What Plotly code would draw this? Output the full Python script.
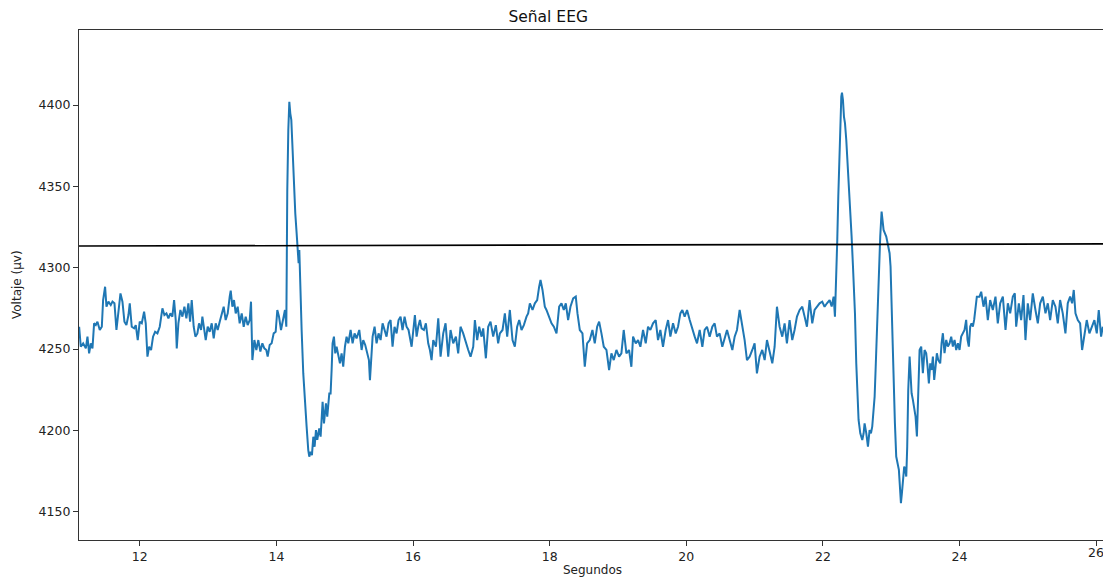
import plotly.graph_objects as go

# Tiempo (s) y voltaje (µV)
tiempo = [
    11.112, 11.136, 11.171, 11.21, 11.234, 11.258, 11.283, 11.307, 11.331, 11.356, 11.38, 11.414, 11.444,
    11.463, 11.492, 11.512, 11.541, 11.575, 11.6, 11.629, 11.658, 11.687, 11.717, 11.746, 11.775, 11.804,
    11.834, 11.853, 11.882, 11.917, 11.941, 11.97, 11.999, 12.029, 12.063, 12.087, 12.112, 12.136, 12.165,
    12.194, 12.224, 12.258, 12.292, 12.331, 12.36, 12.39, 12.419, 12.448, 12.477, 12.502, 12.526, 12.541,
    12.565, 12.594, 12.624, 12.653, 12.682, 12.711, 12.736, 12.76, 12.789, 12.814, 12.843, 12.867, 12.897,
    12.916, 12.941, 12.965, 12.994, 13.023, 13.053, 13.082, 13.111, 13.14, 13.17, 13.199, 13.228, 13.257,
    13.287, 13.316, 13.331, 13.355, 13.379, 13.404, 13.433, 13.462, 13.492, 13.521, 13.55, 13.579, 13.609,
    13.628, 13.648, 13.677, 13.706, 13.735, 13.765, 13.794, 13.823, 13.852, 13.872, 13.901, 13.93, 13.96,
    13.989, 14.013, 14.038, 14.067, 14.096, 14.125, 14.145,
    14.15, 14.159, 14.174, 14.189, 14.203, 14.218, 14.237, 14.257, 14.276, 14.296, 14.31, 14.325, 14.335,
    14.349, 14.369, 14.393, 14.418, 14.442, 14.466, 14.481, 14.501, 14.52, 14.54, 14.559, 14.579, 14.598,
    14.627, 14.647, 14.676, 14.696, 14.725, 14.744, 14.774, 14.793, 14.808, 14.822, 14.842, 14.861, 14.881,
    14.905, 14.93, 14.954, 14.978, 15.003, 15.027, 15.052, 15.086, 15.115, 15.144, 15.173, 15.213, 15.247,
    15.271, 15.3, 15.33, 15.354, 15.369, 15.388, 15.408, 15.437, 15.466, 15.495, 15.525, 15.554, 15.583,
    15.612, 15.642, 15.671, 15.7, 15.729, 15.759, 15.788, 15.817, 15.846, 15.876, 15.905, 15.934,
    15.979, 16.027, 16.052, 16.076, 16.101, 16.125, 16.159, 16.188, 16.222, 16.247, 16.271, 16.296, 16.335,
    16.369, 16.403, 16.442, 16.476, 16.515, 16.549, 16.588, 16.627, 16.661, 16.695, 16.734, 16.773, 16.808,
    16.842, 16.881, 16.905, 16.939, 16.968, 17.003, 17.027, 17.066, 17.1, 17.134, 17.173, 17.212, 17.246,
    17.271, 17.31, 17.344, 17.378, 17.417, 17.456, 17.49, 17.524, 17.554, 17.588, 17.622, 17.661, 17.685,
    17.71, 17.749, 17.783, 17.817, 17.846, 17.866, 17.895, 17.929, 17.953, 17.992, 18.027, 18.061, 18.1,
    18.139, 18.173, 18.207, 18.236, 18.27, 18.304, 18.344, 18.382, 18.407, 18.441, 18.48, 18.514, 18.548,
    18.587, 18.626, 18.66, 18.695, 18.724, 18.758, 18.792, 18.831, 18.87,
    18.904, 18.938, 18.977, 19.016, 19.05, 19.084, 19.123, 19.162, 19.196, 19.221, 19.26, 19.294, 19.328,
    19.367, 19.406, 19.44, 19.474, 19.513, 19.552, 19.586, 19.62, 19.659, 19.698, 19.733, 19.767, 19.806,
    19.845, 19.879, 19.913, 19.942, 19.976, 20.011, 20.05, 20.088, 20.123, 20.157, 20.196, 20.235, 20.269,
    20.303, 20.342, 20.381, 20.415, 20.449, 20.488, 20.527, 20.562, 20.596, 20.635, 20.674, 20.708, 20.742,
    20.781, 20.82, 20.854, 20.888, 20.927, 20.966, 21.0, 21.034, 21.073, 21.112, 21.147, 21.181, 21.22,
    21.259, 21.293, 21.327, 21.366, 21.405, 21.439, 21.473, 21.512, 21.551, 21.585, 21.62, 21.659, 21.698,
    21.732, 21.766, 21.805, 21.844, 21.878, 21.912, 21.951, 21.99, 22.024, 22.059, 22.098,
    22.128, 22.157, 22.176, 22.196, 22.21, 22.225, 22.24, 22.254, 22.269, 22.279, 22.293, 22.308, 22.323,
    22.342, 22.357, 22.376, 22.391, 22.405, 22.42, 22.44, 22.454, 22.469, 22.488, 22.503, 22.522, 22.547,
    22.576, 22.596, 22.61, 22.635, 22.659, 22.683, 22.703, 22.722, 22.742, 22.757, 22.771, 22.791, 22.805,
    22.82, 22.839, 22.859, 22.874, 22.888, 22.908, 22.927, 22.947, 22.961, 22.976, 22.99, 23.005, 23.02,
    23.034, 23.054, 23.073, 23.093, 23.112, 23.127, 23.142, 23.156, 23.171, 23.19, 23.205, 23.22, 23.234,
    23.249, 23.269, 23.283, 23.298, 23.317, 23.337, 23.356, 23.376, 23.395, 23.415, 23.439, 23.463, 23.488,
    23.512, 23.532, 23.551, 23.571, 23.59, 23.61, 23.629, 23.649, 23.668, 23.688, 23.717, 23.737, 23.756,
    23.78, 23.805, 23.829, 23.854, 23.878, 23.902, 23.927, 23.951, 23.976, 24.0, 24.024, 24.049, 24.073,
    24.097, 24.117, 24.136, 24.156, 24.175, 24.195, 24.214, 24.234, 24.253,
    24.292, 24.317, 24.351, 24.38, 24.414, 24.448, 24.487, 24.526, 24.56, 24.595, 24.634, 24.673, 24.707,
    24.741, 24.78, 24.809, 24.829, 24.868, 24.902, 24.936, 24.965, 24.999, 25.033, 25.072, 25.111, 25.146,
    25.18, 25.219, 25.258, 25.292, 25.326, 25.365, 25.404, 25.438, 25.472, 25.511, 25.55, 25.584, 25.619,
    25.648, 25.672, 25.697, 25.731, 25.765, 25.794, 25.828, 25.862, 25.901, 25.94, 25.974, 26.009, 26.038,
    26.072, 26.097,
]

voltaje = [
    4263.7, 4251.4, 4253.5, 4250.4, 4257.6, 4247.3, 4253.5, 4250.4, 4265.8, 4264.7, 4266.8, 4261.7, 4263.7,
    4280.1, 4288.3, 4276.0, 4279.1, 4277.0, 4279.1, 4278.1, 4261.7, 4271.9, 4284.2, 4279.1, 4266.8, 4264.7,
    4270.9, 4278.1, 4263.7, 4262.7, 4264.7, 4255.5, 4266.8, 4265.8, 4272.9, 4265.8, 4245.3, 4251.4, 4249.4,
    4257.6, 4260.6, 4259.6, 4263.7, 4275.0, 4270.9, 4271.9, 4268.8, 4271.9, 4269.9, 4280.1, 4267.8, 4250.4,
    4265.8, 4274.0, 4269.9, 4276.0, 4268.8, 4278.1, 4266.8, 4280.1, 4263.7, 4257.6, 4259.6, 4265.8, 4261.7,
    4269.9, 4260.6, 4255.5, 4263.7, 4260.6, 4265.8, 4256.5, 4265.8, 4261.7, 4266.8, 4270.9, 4276.0, 4267.8,
    4271.9, 4282.2, 4285.9, 4276.0, 4280.1, 4271.9, 4276.0, 4265.8, 4271.9, 4263.7, 4269.9, 4264.7, 4267.8,
    4279.1, 4243.2, 4255.5, 4249.4, 4255.5, 4248.4, 4253.5, 4250.4, 4249.4, 4245.3, 4252.5, 4253.5, 4259.6,
    4260.6, 4274.0, 4269.9, 4261.7, 4267.8, 4274.0, 4263.7,
    4312.9, 4347.7, 4384.6, 4402.0, 4394.9, 4390.8, 4372.3, 4347.7, 4333.4, 4321.1, 4312.9, 4302.7, 4310.9,
    4286.3, 4261.7, 4235.0, 4214.5, 4202.3, 4187.9, 4183.8, 4186.9, 4184.8, 4196.1, 4189.9, 4200.2, 4194.1,
    4201.2, 4196.1, 4217.6, 4204.3, 4216.6, 4208.4, 4222.7, 4222.7, 4237.1, 4253.5, 4257.6, 4247.3, 4251.4,
    4245.3, 4241.2, 4247.3, 4239.1, 4251.4, 4257.6, 4253.5, 4261.7, 4253.5, 4259.6, 4256.5, 4261.7, 4249.4,
    4255.5, 4252.5, 4247.3, 4243.2, 4230.9, 4247.3, 4257.6, 4263.7, 4253.5, 4259.6, 4255.5, 4265.8, 4261.7,
    4257.6, 4265.8, 4267.8, 4251.4, 4263.7, 4259.6, 4267.8, 4269.9, 4261.7, 4269.9, 4263.7, 4261.7,
    4251.4, 4270.9, 4257.6, 4263.7, 4267.8, 4262.7, 4261.7, 4265.8, 4253.5, 4249.4, 4243.2, 4255.5, 4251.4,
    4268.8, 4245.3, 4259.6, 4265.8, 4245.3, 4261.7, 4253.5, 4257.6, 4247.3, 4263.7, 4259.6, 4253.5, 4249.4,
    4245.3, 4251.4, 4267.8, 4255.5, 4263.7, 4257.6, 4262.7, 4244.3, 4263.7, 4266.8, 4257.6, 4264.7, 4253.5,
    4259.6, 4261.7, 4271.9, 4257.6, 4274.0, 4255.5, 4251.4, 4263.7, 4267.8, 4261.7, 4264.7, 4269.9, 4271.9,
    4278.1, 4274.0, 4278.1, 4280.1, 4288.3, 4292.4, 4286.3, 4276.0, 4274.0, 4269.9, 4265.8, 4263.7, 4259.6,
    4276.0, 4278.1, 4274.0, 4278.1, 4267.8, 4276.0, 4281.1, 4282.2, 4271.9, 4261.7, 4259.6, 4239.1, 4253.5,
    4255.5, 4261.7, 4253.5, 4263.7, 4266.8, 4259.6, 4251.4, 4249.4, 4237.1,
    4247.3, 4243.2, 4249.4, 4245.3, 4247.3, 4261.7, 4247.3, 4249.4, 4239.1, 4257.6, 4253.5, 4255.5, 4251.4,
    4261.7, 4253.5, 4263.7, 4261.7, 4265.8, 4267.8, 4255.5, 4261.7, 4251.4, 4261.7, 4267.8, 4257.6, 4265.8,
    4259.6, 4263.7, 4271.9, 4274.0, 4269.9, 4274.0, 4267.8, 4261.7, 4257.6, 4253.5, 4261.7, 4251.4, 4261.7,
    4263.7, 4257.6, 4263.7, 4265.8, 4257.6, 4259.6, 4251.4, 4257.6, 4261.7, 4255.5, 4249.4, 4257.6, 4261.7,
    4274.0, 4263.7, 4255.5, 4243.2, 4245.3, 4249.4, 4253.5, 4235.0, 4245.3, 4249.4, 4243.2, 4255.5, 4247.3,
    4241.2, 4251.4, 4276.0, 4263.7, 4257.6, 4265.8, 4253.5, 4267.8, 4255.5, 4261.7, 4269.9, 4274.0, 4276.0,
    4269.9, 4263.7, 4280.1, 4265.8, 4274.0, 4276.0, 4278.1, 4279.1, 4276.0, 4278.1, 4280.1,
    4276.1, 4282.2, 4269.9, 4292.5, 4317.1, 4343.7, 4370.3, 4390.8, 4405.2, 4407.6, 4403.1, 4392.9, 4388.8,
    4378.5, 4368.3, 4356.0, 4345.7, 4333.4, 4319.1, 4300.7, 4288.4, 4272.0, 4241.2, 4220.7, 4206.4, 4198.2,
    4194.1, 4198.2, 4204.3, 4198.2, 4190.0, 4200.2, 4198.2, 4202.3, 4210.5, 4220.7, 4237.1, 4261.7, 4282.2,
    4300.7, 4319.1, 4334.5, 4329.3, 4323.2, 4321.1, 4319.1, 4315.0, 4310.9, 4308.9, 4300.7, 4276.1, 4251.5,
    4231.0, 4204.3, 4183.9, 4179.8, 4175.7, 4165.4, 4155.2, 4161.3, 4169.5, 4177.7, 4175.7, 4171.6, 4190.0,
    4224.8, 4245.3, 4231.0, 4222.8, 4218.7, 4212.5, 4208.4, 4196.2, 4231.0, 4249.4, 4251.5, 4235.1, 4249.4,
    4247.4, 4239.2, 4228.9, 4241.2, 4237.1, 4245.3, 4231.0, 4239.2, 4247.4, 4243.3, 4241.2, 4253.5, 4259.7,
    4247.4, 4255.6, 4251.5, 4253.5, 4257.6, 4251.5, 4255.6, 4249.4, 4253.5, 4249.4, 4257.6, 4259.7, 4261.7,
    4267.9, 4255.6, 4251.5, 4263.8, 4265.8, 4263.8, 4267.9, 4274.0, 4282.2,
    4282.2, 4285.2, 4276.0, 4282.2, 4267.8, 4280.1, 4274.0, 4282.2, 4265.8, 4278.1, 4282.2, 4261.7, 4278.1,
    4271.9, 4282.2, 4284.2, 4263.7, 4278.1, 4267.8, 4283.2, 4255.5, 4278.1, 4267.8, 4284.2, 4274.0, 4265.8,
    4278.1, 4282.2, 4271.9, 4278.1, 4267.8, 4280.1, 4276.0, 4265.8, 4280.1, 4271.9, 4259.6, 4278.1, 4282.2,
    4278.1, 4286.3, 4271.9, 4267.8, 4265.8, 4249.4, 4257.6, 4267.8, 4259.6, 4263.7, 4267.8, 4259.6, 4274.0,
    4257.6, 4263.7,
]

# Línea de referencia (negra)
umbral_t = [11.11, 26.1]
umbral_v = [4313.3, 4314.6]

x_ticks = [12, 14, 16, 18, 20, 22, 24, 26]
y_ticks = [4150, 4200, 4250, 4300, 4350, 4400]

fig = go.Figure()
fig.add_trace(go.Scatter(
    x=tiempo, y=voltaje, mode="lines",
    line=dict(color="#1f77b4", width=2),
    showlegend=False, hoverinfo="skip",
))
fig.add_trace(go.Scatter(
    x=umbral_t, y=umbral_v, mode="lines",
    line=dict(color="black", width=1.6),
    showlegend=False, hoverinfo="skip",
))

tick_font = dict(family="DejaVu Sans", size=12.5, color="#222222")
axis_common = dict(
    showgrid=False, zeroline=False, showline=True, linecolor="#333333", linewidth=1.2,
    ticks="outside", ticklen=5, tickwidth=1, tickcolor="#333333",
    tickfont=tick_font,
)

fig.update_layout(
    width=1103, height=578,
    margin=dict(l=79, r=0, t=30, b=38),
    paper_bgcolor="white", plot_bgcolor="white",
    title=dict(text="Señal EEG", x=0.497, xanchor="center", y=1 - 17 / 578, yanchor="middle",
               font=dict(family="DejaVu Sans", size=15.5, color="#111111")),
    xaxis=dict(range=[11.11, 26.1], tickvals=x_ticks, ticktext=[str(v) for v in x_ticks],
               mirror=True, **axis_common),
    yaxis=dict(range=[4132.6, 4446.1], tickvals=y_ticks, ticktext=[str(v) for v in y_ticks],
               mirror=False, **axis_common),
    annotations=[
        dict(text="Segundos", xref="paper", yref="paper", x=0.501, y=-30 / 510,
             xanchor="center", yanchor="middle", showarrow=False,
             font=dict(family="DejaVu Sans", size=12, color="#222222")),
        dict(text="Voltaje (µv)", xref="paper", yref="paper", x=-62 / 1024, y=0.5,
             xanchor="center", yanchor="middle", textangle=-90, showarrow=False,
             font=dict(family="DejaVu Sans", size=12, color="#222222")),
        # last tick label, partly cut by the right edge as in the original
        dict(text=str(x_ticks[-1]), xref="x", yref="paper", x=x_ticks[-1], y=-12 / 510,
             xanchor="center", yanchor="middle", showarrow=False, font=tick_font),
    ],
)

fig.write_html("out.html", config={"displayModeBar": False},
               post_script="document.body.style.margin='0';document.body.style.overflow='hidden';")
